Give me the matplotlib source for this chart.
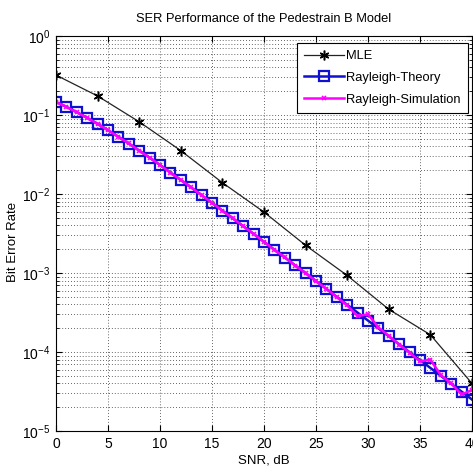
import matplotlib
matplotlib.use("Agg")
import matplotlib.pyplot as plt
import numpy as np
from matplotlib.ticker import LogLocator, NullFormatter

plt.rcParams['font.family'] = ['Liberation Sans', 'DejaVu Sans']
plt.rcParams['mathtext.fontset'] = 'custom'
plt.rcParams['mathtext.rm'] = 'Liberation Sans'

snr_mle = [0, 4, 8, 12, 16, 20, 24, 28, 32, 36, 40]
ber_mle = [0.32, 0.174, 0.082, 0.0354, 0.0139, 0.0059, 0.00224, 0.00093, 0.000347, 0.000165, 0.000040]

snr_ray = list(range(0, 41))
ber_theory = [0.1464, 0.1267, 0.1085, 0.0919, 0.0771, 0.0642, 0.0530, 0.0435, 0.0355, 0.0288,
              0.0233, 0.0187, 0.0150, 0.0121, 0.00966, 0.00772, 0.00616, 0.00491, 0.00392, 0.00312,
              0.00248, 0.00197, 0.00157, 0.00125, 0.000993, 0.000790, 0.000628, 0.000499, 0.000396, 0.000315,
              0.000250, 0.000199, 0.000158, 0.000125, 0.0000995, 0.0000791, 0.0000628, 0.0000499, 0.0000396, 0.0000315,
              0.0000250]
ber_sim = [0.146, 0.127, 0.108, 0.092, 0.077, 0.064, 0.053, 0.0436, 0.0354, 0.0289,
           0.0233, 0.0186, 0.0151, 0.0121, 0.00962, 0.00775, 0.00613, 0.00493, 0.00390, 0.00313,
           0.00249, 0.00196, 0.00158, 0.00124, 0.00100, 0.000787, 0.000633, 0.000495, 0.000388, 0.000285,
           0.000300, 0.000205, 0.000160, 0.000124, 0.0000980, 0.0000760, 0.0000800, 0.0000510, 0.0000400, 0.0000290,
           0.0000330]

fig = plt.figure(figsize=(4.73, 4.75), dpi=100)
ax = fig.add_axes([56/473, 1-431/475, (472-56)/473, (431-36)/475])

ax.semilogy(snr_mle, ber_mle, color='#222222', lw=0.9, marker=(6, 2, 0), ms=7, mec='black', mew=1.1, label='MLE')
ax.semilogy(snr_ray, ber_theory, color='#1010d0', lw=1.8, marker='s', ms=7, mfc='none', mec='#1010d0', mew=1.6, label='Rayleigh-Theory')
ax.semilogy(snr_ray, ber_sim, color='#ff00ff', lw=1.8, marker='x', ms=3.5, mec='#ff00ff', mew=1.2, label='Rayleigh-Simulation')

ax.set_xlim(0, 40)
ax.set_ylim(1e-5, 1)
ax.set_xticks([0, 5, 10, 15, 20, 25, 30, 35, 40])
ax.yaxis.set_major_locator(LogLocator(base=10, numticks=10))
ax.yaxis.set_minor_locator(LogLocator(base=10, subs=np.arange(2, 10), numticks=20))
ax.yaxis.set_minor_formatter(NullFormatter())
ax.grid(True, which='major', ls=(0, (1, 2.5)), color='#333333', lw=0.6)
ax.grid(True, which='minor', axis='y', ls=(0, (1, 2.5)), color='#333333', lw=0.6)
ax.tick_params(which='both', direction='in', top=True, right=True, labelsize=10)
ax.tick_params(which='major', length=4, pad=4)
ax.tick_params(which='minor', length=2)
for s in ax.spines.values():
    s.set_linewidth(0.8)

ax.set_title('SER Performance of the Pedestrain B Model', fontsize=9.3, pad=10)
ax.set_xlabel('SNR, dB', fontsize=9.5, labelpad=3)
ax.set_ylabel('Bit Error Rate', fontsize=9.5)
ax.yaxis.set_label_coords(-0.088, 0.478)

leg = ax.legend(loc='upper right', bbox_to_anchor=(0.990, 0.982), borderaxespad=0,
                fontsize=9.3, fancybox=False, edgecolor='black', framealpha=1,
                handlelength=3.1, borderpad=0.55, labelspacing=0.75, handletextpad=0.15)
leg.get_frame().set_linewidth(0.8)

fig.savefig('out.png', dpi=100)
